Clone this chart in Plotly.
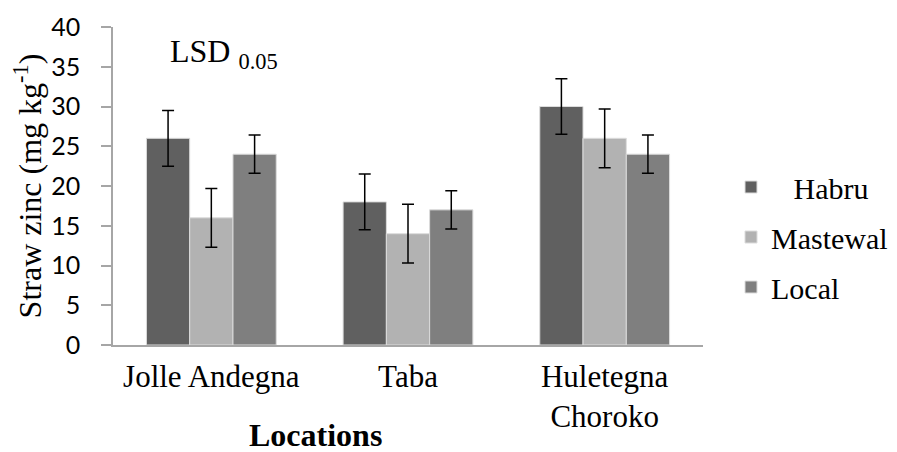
import plotly.graph_objects as go

categories = ["Jolle Andegna", "Taba", "Huletegna<br>Choroko"]
series_names = ["\u00a0\u00a0\u00a0Habru", "Mastewal", "Local"]
habru = [26, 18, 30]
mastewal = [16, 14, 26]
local = [24, 17, 24]
habru_err = [3.5, 3.5, 3.5]
mastewal_err = [3.7, 3.7, 3.7]
local_err = [2.4, 2.4, 2.4]
y_ticks = [0, 5, 10, 15, 20, 25, 30, 35, 40]

colors = ["#606060", "#b2b2b2", "#7f7f7f"]
values = [habru, mastewal, local]
errors = [habru_err, mastewal_err, local_err]

serif = "Liberation Serif, Times New Roman, serif"

W, H = 889, 444
L, R, T, B = 105, 194, 19, 107
pw, ph = W - L - R, H - T - B


def px(sx):
    return (sx - 8 - L) / pw


def py(sy):
    return (H - B - (sy - 8)) / ph


fig = go.Figure()
for i, (name, vals, errs) in enumerate(zip(series_names, values, errors)):
    fig.add_trace(go.Bar(
        x=categories, y=vals, name=name,
        marker=dict(color=colors[i], line=dict(color="#dcdcdc", width=1)),
        error_y=dict(type="data", array=errs, visible=True, color="black",
                     thickness=1.5, width=6),
        legendgroup=str(i),
    ))

fig.update_layout(
    width=W, height=H,
    margin=dict(l=L, r=R, t=T, b=B, autoexpand=False),
    paper_bgcolor="white", plot_bgcolor="white",
    barmode="group", bargap=0.34, bargroupgap=0,
    showlegend=True,
    legend=dict(x=px(731), y=py(237), xanchor="left", yanchor="middle",
                font=dict(family=serif, size=30, color="black"),
                tracegroupgap=8, itemwidth=30, bgcolor="rgba(0,0,0,0)"),
    xaxis=dict(showline=True, linecolor="#a6a6a6", linewidth=1.5,
               ticks="", tickfont=dict(family=serif, size=31, color="black"),
               ticklabelstandoff=3,
               showgrid=False, automargin=False),
    yaxis=dict(range=[0, 40], tickvals=y_ticks, showline=True, linecolor="#a6a6a6",
               linewidth=1.5, ticks="outside", ticklen=10, tickcolor="#a6a6a6",
               tickwidth=1.5, showgrid=False, zeroline=False, automargin=False,
               tickfont=dict(family="Lato, Open Sans, sans-serif", size=25, color="black"),
               ticklabelstandoff=16,
               title=dict(text="Straw zinc (mg kg<sup>-1</sup>)",
                          font=dict(family=serif, size=32, color="black"),
                          standoff=9)),
    annotations=[
        dict(text="<b>Locations</b>", x=px(315), y=py(435), xref="paper", yref="paper",
             xanchor="center", yanchor="middle", showarrow=False,
             font=dict(family=serif, size=32, color="black")),
        dict(text="LSD <sub>0.05</sub>", x=px(168), y=py(54), xref="paper", yref="paper",
             xanchor="left", yanchor="middle", showarrow=False,
             font=dict(family=serif, size=32, color="black")),
    ],
)

fig.write_html("out.html")
